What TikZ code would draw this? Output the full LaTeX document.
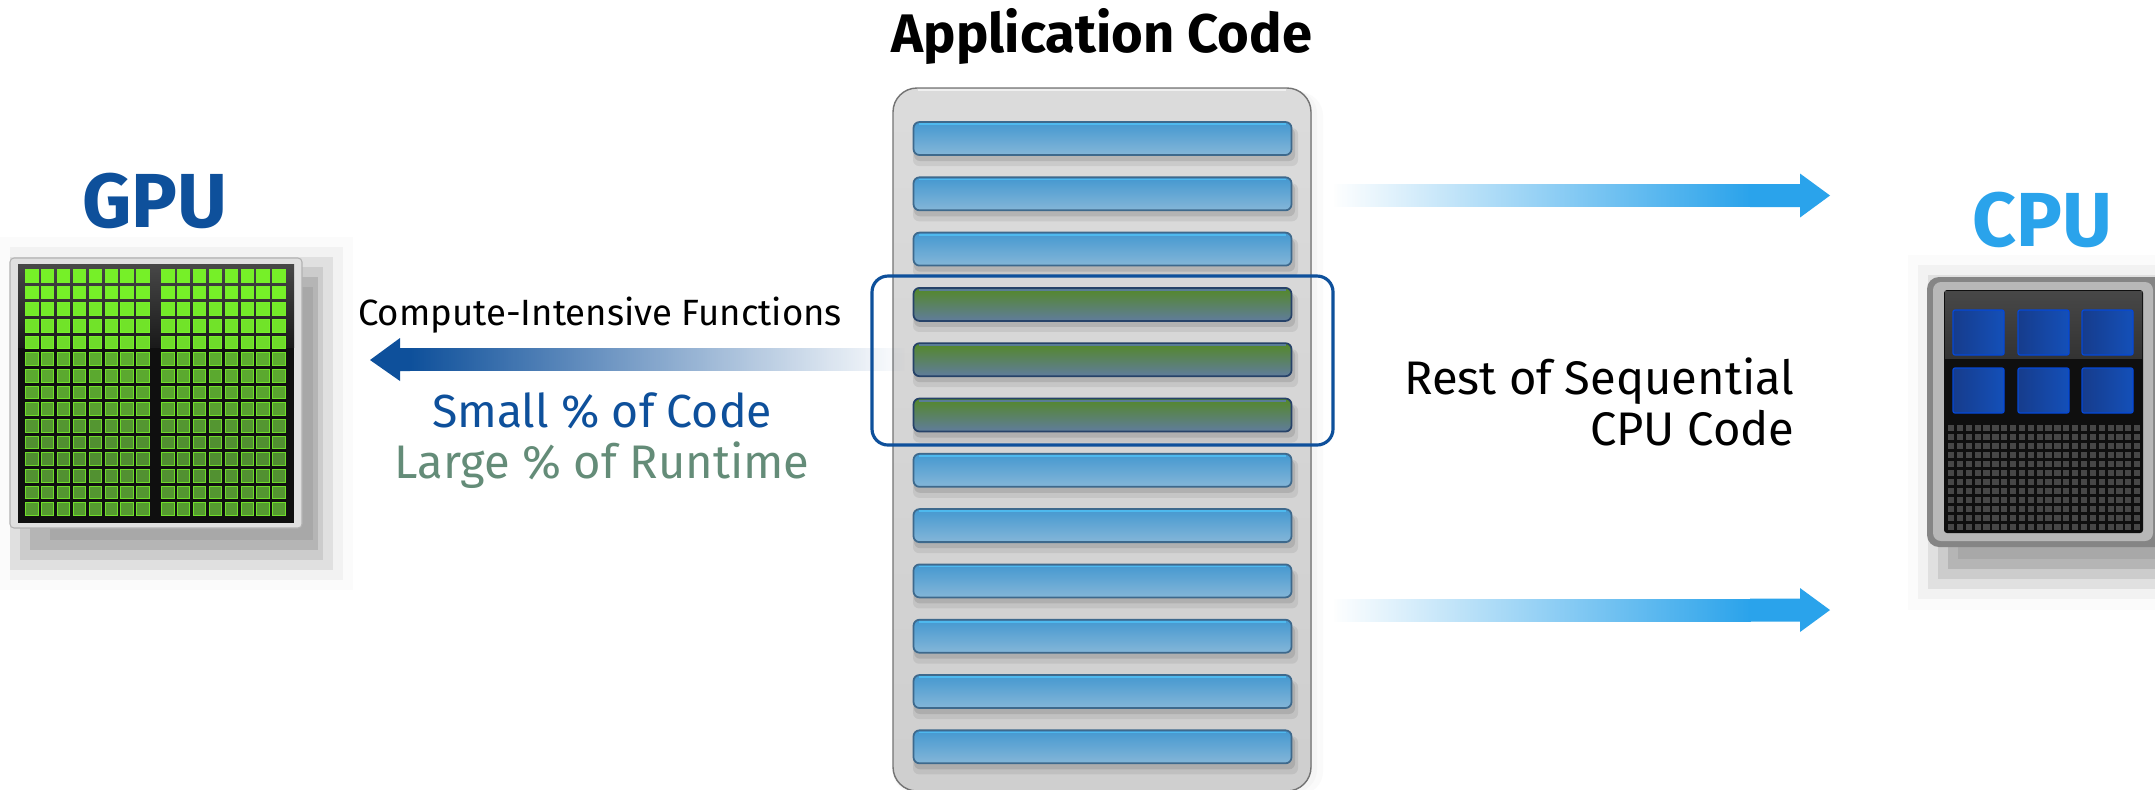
\documentclass[tikz,border=0pt]{standalone}
\usepackage{fontspec}
\setmainfont{Fira Sans}
\usetikzlibrary{calc,shapes.misc,fadings}
\definecolor{nvblue}{RGB}{14,80,155}
\definecolor{cpublue}{RGB}{42,163,235}
\definecolor{runtimegreen}{RGB}{100,140,120}
\definecolor{barA}{RGB}{68,152,208}
\definecolor{barB}{RGB}{132,182,216}
\definecolor{barEdge}{RGB}{62,105,140}
\definecolor{barTop}{RGB}{78,185,238}
\definecolor{grA}{RGB}{84,136,40}
\definecolor{grB}{RGB}{96,124,156}
\definecolor{grEdge}{RGB}{38,66,104}
\definecolor{grTop}{RGB}{90,125,150}
\definecolor{cellHi}{RGB}{118,240,40}
\definecolor{cellLo}{RGB}{78,135,50}
\definecolor{coreA}{RGB}{22,60,140}
\definecolor{coreB}{RGB}{20,80,185}
\definecolor{coreEdge}{RGB}{5,72,215}
\newcommand{\fz}[2]{\fontsize{#1}{#2}\selectfont}
\tikzfading[name=fadeToEast, left color=transparent!0, right color=transparent!100]
\tikzfading[name=fadeToWest, left color=transparent!100, right color=transparent!0]
\tikzset{
  x=0.1mm,y=-0.1mm,
  panelbox/.style={draw=black!55,line width=0.4pt,rounded corners=2.4mm,top color=black!14,bottom color=black!19},
  codebar/.style={draw=barEdge,line width=0.5pt,rounded corners=0.6mm,top color=barA,bottom color=barB,minimum width=37.8mm,minimum height=3.3mm,inner sep=0pt},
  hotbar/.style={codebar,draw=grEdge,top color=grA,bottom color=grB},
  hilite/.style={draw=nvblue,line width=0.9pt,rounded corners=1.6mm},
  title/.style={font=\bfseries,inner sep=0pt,anchor=base},
  lab/.style={inner sep=0pt,anchor=base},
}
\begin{document}
\begin{tikzpicture}
\useasboundingbox (0,0) rectangle (2155,789);
\fill[white] (0,0) rectangle (2155,789);

% --- GPU shadow
\foreach \l/\t/\r/\b/\c in {0/237/353/590/98.5,10/247/343/580/95,10/257/333/570/88,20/267/323/560/80,30/277/318/550/71,50/287/313/540/66}
  \fill[black!\fpeval{100-\c}] (\l,\t) rectangle (\r,\b);
% --- GPU chip
\fill[black!12,rounded corners=0.4mm] (10,258) rectangle (302,528);
\draw[black!30,line width=0.3pt,rounded corners=0.4mm] (10,258) rectangle (302,528);
\fill[black!94] (18,264) rectangle (294,523);
\shade[top color=black!72,bottom color=black!90] (18,264) rectangle (294,347);
\foreach \row/\mix/\edge in {0/100/100,1/100/100,2/94/100,3/88/100,4/80/100,5/35/85,6/32/85,7/28/85,8/24/85,9/14/80,10/8/78,11/6/78,12/10/80,13/14/82,14/18/84}{
  \foreach \col in {0,...,15}{
    \pgfmathsetmacro{\xx}{\col<8 ? 25+15.9*\col : 161+15.9*(\col-8)}
    \pgfmathsetmacro{\yy}{269+16.67*\row}
    \filldraw[draw=cellHi!\edge!cellLo,line width=0.25pt,fill=cellHi!\mix!cellLo] (\xx+0.5,\yy+0.5) rectangle (\xx+13,\yy+13);
  }
}
\node[title,text=nvblue] (gpu) at (155,227) {\fz{21.8}{24}GPU};

% --- CPU shadow
\foreach \l/\t/\r/\b/\c in {1908/255/2155/610/98.5,1918/265/2155/599/95,1928/275/2155/589/88,1938/285/2155/579/80,1948/295/2155/569/71,1958/305/2155/559/66}
  \fill[black!\fpeval{100-\c}] (\l,\t) rectangle (\r,\b);
% --- CPU chip
\fill[black!48,rounded corners=1.2mm] (1927,277) rectangle (2170,547);
\fill[black!28,rounded corners=0.8mm] (1933,282) rectangle (2153,541);
\fill[black!94,rounded corners=0.3mm] (1944,290) rectangle (2143,533);
\shade[top color=black!72,bottom color=black!80] (1945,291) rectangle (2142,358);
\foreach \xx in {1953,2018,2082}\foreach \yy in {310,368}{
  \shade[left color=coreA,right color=coreB,rounded corners=0.2mm] (\xx,\yy) rectangle (\xx+51,\yy+45);
  \draw[coreEdge,line width=0.35pt,rounded corners=0.2mm] (\xx,\yy) rectangle (\xx+51,\yy+45);
}
\foreach \col in {0,...,21}\foreach \row in {0,...,11}
  \fill[black!72] (1948+8.86*\col,425+9*\row) rectangle (1948+8.86*\col+6.2,425+9*\row+6.2);
\node[title,text=cpublue] (cpu) at (2042,246) {\fz{21.8}{24}CPU};

% --- Panel
\fill[black!2,rounded corners=2.4mm] (893,92) rectangle (1323,795);
\fill[black!4,rounded corners=2.4mm] (893,90) rectangle (1317,793);
\filldraw[panelbox] (893,88) rectangle (1311,791);
\draw[white,opacity=0.6,line width=0.4pt] (918,90) -- (1286,90);

% --- Arrows, behind the bars
\coordinate (la) at (905,360);
\coordinate (lb) at (370,360);
\fill[nvblue] (lb) -- (400,338) -- (400,348) -- (410,348) -- (410,371) -- (400,371) -- (400,381) -- cycle;
\fill[nvblue,path fading=fadeToEast] (409.5,348) rectangle (la |- 0,371);
\foreach \n/\yy in {r1/195.5,r2/610}{
  \coordinate (\n s) at (1333,\yy);
  \coordinate (\n e) at (1830,\yy);
  \fill[cpublue,path fading=fadeToWest] (\n s |- 0,\yy-11.5) rectangle (1750.5,\yy+11.5);
  \fill[cpublue] (1750,\yy-11.5) -- (1800,\yy-11.5) -- (1800,\yy-22) -- (\n e) -- (1800,\yy+22) -- (1800,\yy+11.5) -- (1750,\yy+11.5) -- cycle;
}

% --- Bars
\foreach \i in {1,...,12}{
  \pgfmathsetmacro{\yy}{138.5+55.3*(\i-1)}
  \ifnum\i>3 \ifnum\i<7 \def\barstyle{hotbar}\def\edgec{grTop}\else \def\barstyle{codebar}\def\edgec{barTop}\fi\else \def\barstyle{codebar}\def\edgec{barTop}\fi
  \fill[black,opacity=0.07,rounded corners=0.6mm] (913,128+55.3*\i-55.3) rectangle (1298,166+55.3*\i-55.3);
  \fill[black,opacity=0.10,rounded corners=0.6mm] (914,128+55.3*\i-55.3) rectangle (1295,161+55.3*\i-55.3);
  \node[\barstyle] (b\i) at (1102.5,\yy) {};
  \draw[\edgec,line width=0.5pt] ([xshift=0.6mm,yshift=-0.3mm]b\i.north west) -- ([xshift=-0.6mm,yshift=-0.3mm]b\i.north east);
}

% --- Highlight
\draw[hilite] (872,276) rectangle (1333,445);

% --- Text
\node[title] (app) at (1102,52) {\fz{15.45}{18}Application Code};
\node[lab] (cif) at (600,325) {\fz{10.4}{12}Compute-Intensive Functions};
\node[lab,text=nvblue] (small) at (602,427) {\fz{13.2}{16}Small \% of Code};
\node[lab,text=runtimegreen] (large) at (602,478) {\fz{13.4}{16}Large \% of Runtime};
\node[inner sep=0pt,anchor=base east] (rest1) at (1795,394) {\fz{13.4}{16}Rest of Sequential};
\node[inner sep=0pt,anchor=base east] (rest2) at (1795,445) {\fz{13.4}{16}CPU Code};
\end{tikzpicture}
\end{document}
